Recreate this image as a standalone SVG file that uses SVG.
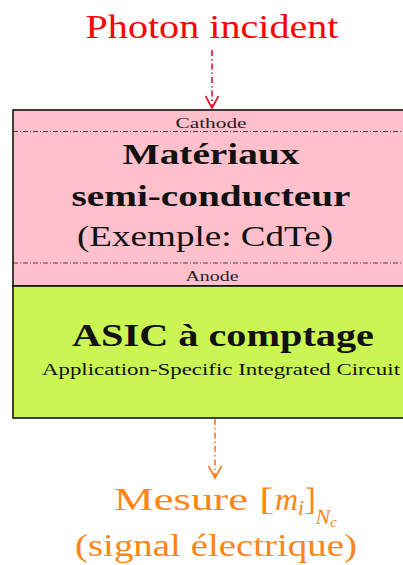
<svg xmlns="http://www.w3.org/2000/svg" width="403" height="565" viewBox="0 0 403 565">
<defs>
<style>
text{text-anchor:middle}
.b{font-weight:bold}
.sep{stroke:#222;stroke-width:0.8;stroke-dasharray:5 2 1 2;fill:none}
.conn{fill:none;stroke-width:1.6;stroke-dasharray:6 3 1.5 3}
.head{fill:none;stroke-width:1.6}
</style>
</defs>
<rect width="403" height="565" fill="#fff"/>
<g font-family="'Liberation Serif', 'Times New Roman', Times, serif">
<g id="photon">
<text x="212" y="38" font-size="33" fill="#ff0000" textLength="253" lengthAdjust="spacingAndGlyphs">Photon incident</text>
</g>
<g id="semiconducteur">
<rect x="13" y="110" width="400" height="176" fill="#ffc0cb" stroke="#111" stroke-width="1.6"/>
<text x="211" y="127.5" font-size="14" fill="#222" textLength="71" lengthAdjust="spacingAndGlyphs">Cathode</text>
<line class="sep" x1="13" y1="131.5" x2="403" y2="131.5"/>
<text x="211" y="164" font-size="29" class="b" fill="#111" textLength="177" lengthAdjust="spacingAndGlyphs">Matériaux</text>
<text x="211" y="206" font-size="29" class="b" fill="#111" textLength="279" lengthAdjust="spacingAndGlyphs">semi-conducteur</text>
<text x="205" y="246" font-size="29" fill="#111" textLength="256" lengthAdjust="spacingAndGlyphs">(Exemple:  CdTe)</text>
<line class="sep" x1="13" y1="263" x2="403" y2="263"/>
<text x="212" y="280.5" font-size="14" fill="#222" textLength="53" lengthAdjust="spacingAndGlyphs">Anode</text>
</g>
<g id="asic">
<rect x="13" y="286" width="400" height="132" fill="#cbf552" stroke="#111" stroke-width="1.6"/>
<text x="223" y="346" font-size="31" class="b" fill="#111" textLength="302" lengthAdjust="spacingAndGlyphs">ASIC à comptage</text>
<text x="221" y="375" font-size="16" fill="#111" textLength="358" lengthAdjust="spacingAndGlyphs">Application-Specific Integrated Circuit</text>
</g>
<g id="mesure">
<text x="114" y="510" font-size="32" fill="#ff8514" style="text-anchor:start"><tspan textLength="160" lengthAdjust="spacingAndGlyphs">Mesure [</tspan><tspan font-style="italic" dx="1">m</tspan><tspan font-style="italic" font-size="21" dy="5">i</tspan><tspan dy="-5" dx="1">]</tspan><tspan font-style="italic" font-size="22" dy="14">N</tspan><tspan font-style="italic" font-size="15" dy="3">c</tspan></text>
<text x="216" y="556" font-size="32" fill="#ff8514" textLength="282" lengthAdjust="spacingAndGlyphs">(signal électrique)</text>
</g>
</g>
<g id="connectors">
<line class="conn" stroke="#e8102a" x1="212" y1="50" x2="212" y2="106"/>
<polyline class="head" stroke="#e8102a" points="205.5,96 212,108 218.5,96"/>
<line class="conn" stroke="#ff7a1a" x1="215" y1="419" x2="215" y2="476"/>
<polyline class="head" stroke="#ff7a1a" points="208.5,466 215,478 221.5,466"/>
</g>
</svg>
